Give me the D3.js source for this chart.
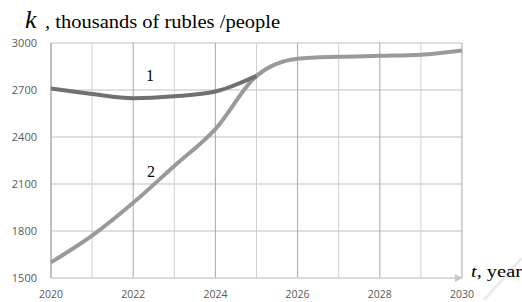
<!DOCTYPE html>
<html>
<head>
<meta charset="UTF-8">
<title>k chart</title>
<script src="https://d3js.org/d3.v7.min.js"></script>
<style>
  body { margin: 0; background: #fff; }
  .serif { font-family: "Liberation Serif", "Times New Roman", "DejaVu Serif", serif; }
</style>
</head>
<body>
<div id="chart"></div>
<script>
// data
const years = [2020, 2021, 2022, 2023, 2024, 2025, 2026, 2027, 2028, 2029, 2030];
const series1 = [2710, 2675, 2648, 2660, 2690, 2790, 2900, 2912, 2918, 2925, 2952];
const series2 = [1600, 1770, 1980, 2215, 2450, 2790, 2900, 2912, 2918, 2925, 2952];
const yTicks = [1500, 1800, 2100, 2400, 2700, 3000];
const xTicks = [2020, 2022, 2024, 2026, 2028, 2030];

const W = 522, H = 302;
const svg = d3.select('#chart').append('svg').attr('width', W).attr('height', H);

const x = d3.scaleLinear().domain([2020, 2030]).range([51, 462]);
const y = d3.scaleLinear().domain([1500, 3000]).range([278, 43]);

// grid
svg.append('g').selectAll('line').data(yTicks.slice(1)).join('line')
  .attr('x1', x(2020)).attr('x2', x(2030))
  .attr('y1', d => y(d)).attr('y2', d => y(d))
  .attr('stroke', '#d4d4d4').attr('stroke-width', 1.5);

svg.append('g').selectAll('line').data(years).join('line')
  .attr('x1', d => x(d)).attr('x2', d => x(d))
  .attr('y1', y(3000)).attr('y2', y(1500))
  .attr('stroke', d => (d % 2 === 0 ? '#a8a8a8' : '#d0d0d0'))
  .attr('stroke-width', d => (d === 2020 ? 1.5 : 1));

// x axis with arrow
svg.append('defs').append('marker')
  .attr('id', 'arr').attr('viewBox', '0 0 10 10').attr('refX', 9).attr('refY', 5)
  .attr('markerWidth', 12).attr('markerHeight', 8).attr('markerUnits', 'userSpaceOnUse')
  .attr('orient', 'auto')
  .append('path').attr('d', 'M0,0L10,5L0,10Z').attr('fill', '#c8c8c8');
svg.append('line')
  .attr('x1', x(2020)).attr('x2', x(2030)).attr('y1', y(1500)).attr('y2', y(1500))
  .attr('stroke', '#d0d0d0').attr('stroke-width', 1.5).attr('marker-end', 'url(#arr)');

// tick labels
svg.append('g').selectAll('text').data(yTicks).join('text')
  .attr('x', 37).attr('y', d => y(d) + 4)
  .attr('text-anchor', 'end')
  .attr('font-family', 'Open Sans, sans-serif').attr('font-size', 11).attr('fill', '#595959')
  .text(d => d);

svg.append('g').selectAll('text').data(xTicks).join('text')
  .attr('x', d => x(d)).attr('y', 298)
  .attr('text-anchor', 'middle')
  .attr('font-family', 'Open Sans, sans-serif').attr('font-size', 10.5).attr('fill', '#595959')
  .text(d => d);

// faint watermark stroke
svg.append('line').attr('x1', 484).attr('y1', 300).attr('x2', 522).attr('y2', 258)
  .attr('stroke', '#ececec').attr('stroke-width', 3);

// lines
const line = d3.line().x((d, i) => x(years[i])).y(d => y(d)).curve(d3.curveMonotoneX);
svg.append('path').datum(series2).attr('d', line)
  .attr('fill', 'none').attr('stroke', '#9a9a9a').attr('stroke-width', 4);
svg.append('path').datum(series1.slice(0, 6)).attr('d', line)
  .attr('fill', 'none').attr('stroke', '#707070').attr('stroke-width', 4);

// line labels
svg.append('text').attr('class', 'serif').attr('x', 150).attr('y', 81).attr('text-anchor', 'middle')
  .attr('font-size', 16).text('1');
svg.append('text').attr('class', 'serif').attr('x', 151).attr('y', 177).attr('text-anchor', 'middle')
  .attr('font-size', 16).text('2');

// titles
svg.append('text').attr('class', 'serif').attr('x', 25).attr('y', 28)
  .attr('font-style', 'italic').attr('font-size', 26).text('k');
svg.append('text').attr('class', 'serif').attr('x', 45).attr('y', 28)
  .attr('font-size', 19.5).attr('textLength', 235).attr('lengthAdjust', 'spacingAndGlyphs')
  .text(', thousands of rubles /people');

const xt = svg.append('text').attr('class', 'serif').attr('x', 471).attr('y', 277)
  .attr('font-size', 16).attr('textLength', 51).attr('lengthAdjust', 'spacingAndGlyphs');
xt.append('tspan').attr('font-style', 'italic').text('t');
xt.append('tspan').text(', year');
</script>
</body>
</html>
